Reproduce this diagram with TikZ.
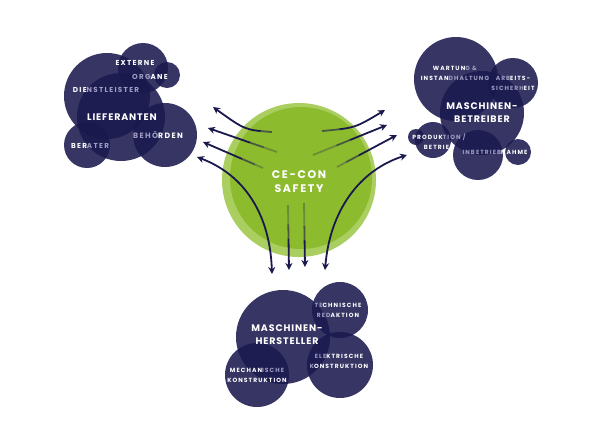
\documentclass[tikz,border=0pt]{standalone}
\usepackage{fontspec}
\setmainfont{Poppins}
\newfontfamily\wide{Poppins}[LetterSpace=15]
\newfontfamily\headfont{Poppins}[LetterSpace=9]
\newfontfamily\tagfont{Poppins}[LetterSpace=18]
\usetikzlibrary{arrows.meta}

\definecolor{navy}{RGB}{26,25,78}
\definecolor{dim}{RGB}{160,158,196}
\definecolor{limedark}{RGB}{141,187,46}
\definecolor{limelight}{RGB}{170,206,96}
\newcommand{\dm}[1]{{\color{dim}\bfseries#1}}

\tikzset{
  bubble/.style={fill=navy, fill opacity=0.88},
  sublbl/.style={text=white, align=center, font=\tagfont\bfseries\fontsize{6}{10}\selectfont},
  leftlbl/.style={sublbl, font=\tagfont\bfseries\fontsize{7.2}{10}\selectfont},
  mainlbl/.style={text=white, align=center, font=\headfont\bfseries\fontsize{9.5}{13}\selectfont},
  link/.style={draw=navy, line width=1.8pt, -{Stealth[length=7pt,width=7pt]}},
  twoway/.style={link, {Stealth[length=7pt,width=7pt]}-{Stealth[length=7pt,width=7pt]}}
}

\begin{document}
\begin{tikzpicture}[x=1pt, y=-1pt]
\useasboundingbox (0,0) rectangle (600,424);

% centre
\fill[limelight] (299,180) circle (77);
\fill[limedark] (301,178) circle (71);

\coordinate (l1s) at (272,132); \coordinate (l1e) at (213,107);
\coordinate (l2s) at (277,152); \coordinate (l2e) at (208,128);
\coordinate (l3s) at (263,168); \coordinate (l3e) at (203,142);
\coordinate (r1s) at (322,131); \coordinate (r1e) at (385,110);
\coordinate (r2s) at (313,155); \coordinate (r2e) at (387,125);
\coordinate (r3s) at (337,167); \coordinate (r3e) at (397,135);
\coordinate (b1s) at (288,205); \coordinate (b1e) at (289,270);
\coordinate (b2s) at (304,203); \coordinate (b2e) at (305,267);
\coordinate (l4a) at (197,157); \coordinate (l4b) at (272,274);
\coordinate (r4a) at (407,155); \coordinate (r4b) at (325,270);

\draw[link] (l1s) .. controls (245,130) .. (l1e);
\draw[link] (l2s) -- (l2e);
\draw[link] (l3s) -- (l3e);
\draw[link] (r1s) .. controls (355,128) .. (r1e);
\draw[link] (r2s) -- (r2e);
\draw[link] (r3s) -- (r3e);
\draw[link] (b1s) -- (b1e);
\draw[link] (b2s) -- (b2e);

% fade the tails
\fill[limedark, fill opacity=0.4] (301,178) circle (62);
\fill[limedark, fill opacity=0.5] (301,178) circle (48);

\draw[twoway] (l4a) .. controls (245,175) and (270,215) .. (l4b);
\draw[twoway] (r4a) .. controls (360,170) and (330,210) .. (r4b);

\node[text=white, align=center, font=\wide\bfseries\fontsize{11}{14}\selectfont] (cecon) at (299,182) {CE-CON\\SAFETY};

% left
\fill[bubble] (143,68) circle (25);
\fill[bubble] (167,75) circle (13);
\fill[bubble] (107,96) circle (43);
\fill[bubble] (121,117) circle (44);
\fill[bubble] (165,135) circle (32);
\fill[bubble] (87,145) circle (23);

\node[leftlbl] (externe) at (135,63) {EXTERNE};
\node[leftlbl] (organe) at (150,77) {\dm{ORG}ANE};
\node[leftlbl] (dienst) at (106,90) {DIE\dm{NSTLEISTER}};
\node[mainlbl] (lief) at (122,117) {LIEFERANTEN};
\node[leftlbl, font=\tagfont\bfseries\fontsize{7.7}{10}\selectfont] (behoerden) at (158,135) {\dm{BEHÖ}RDEN};
\node[leftlbl] (berater) at (90,146) {BER\dm{ATER}};

% right
\fill[bubble] (456,79) circle (42);
\fill[bubble] (513,83) circle (25);
\fill[bubble] (482,113) circle (42);
\fill[bubble] (433,140) circle (18);
\fill[bubble] (416,137) circle (8);
\fill[bubble] (478,155) circle (25);
\fill[bubble] (518,152) circle (13);

\node[sublbl] (wartung) at (455,73) {WARTUN\dm{G \&}\\INSTAN\dm{DHALTUNG}};
\node[sublbl] (arbeit) at (513,83) {\dm{ARB}EITS-\\\dm{SICHERH}EIT};
\node[mainlbl] (betreiber) at (482,113) {MASCHINEN-\\BETREIBER};
\node[sublbl] (produktion) at (439,142) {PRODUK\dm{TION /}\\BETRIEB};
\node[sublbl] (inbetrieb) at (495,152) {\dm{INBETRIEB}NAHME};

% bottom
\fill[bubble] (283,337) circle (47);
\fill[bubble] (340,310) circle (28);
\fill[bubble] (340,365) circle (33);
\fill[bubble] (257,375) circle (32);

\node[sublbl] (technik) at (338,310) {\dm{TE}CHNISCHE\\\dm{RED}AKTION};
\node[mainlbl] (hersteller) at (287,335) {MASCHINEN-\\HERSTELLER};
\node[sublbl] (elektrik) at (339,361) {\dm{ELE}KTRISCHE\\\dm{K}ONSTRUKTION};
\node[sublbl] (mechanik) at (257,375) {MECHAN\dm{ISCHE}\\KONSTRUKTION};
\end{tikzpicture}
\end{document}
